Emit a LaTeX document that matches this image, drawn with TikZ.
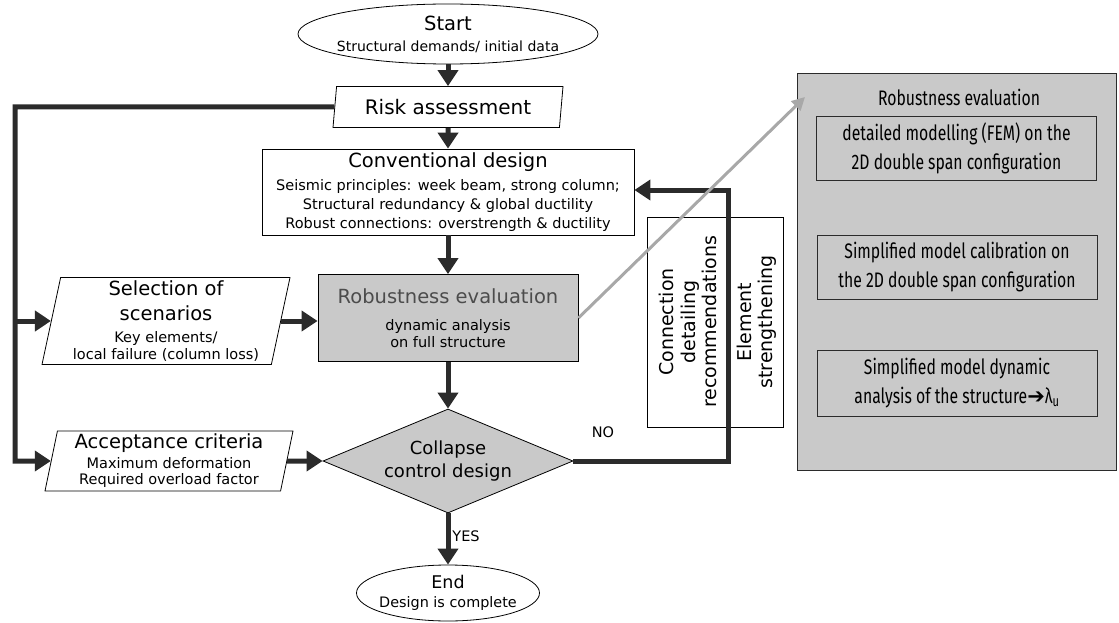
\documentclass[tikz,border=0pt]{standalone}
\usepackage{fontspec}
\setmainfont{DejaVu Sans}
\newfontfamily\narrowfont[FakeStretch=0.75]{Fira Sans}
\newfontfamily\symbfont{DejaVu Sans}
\usetikzlibrary{shapes.geometric,arrows.meta}
\definecolor{darkline}{HTML}{2B2B2B}
\definecolor{boxgray}{HTML}{C9C9C9}
\definecolor{arrowgray}{HTML}{A8A8A8}
\newcommand\headfont{\fontsize{19.5}{19}\selectfont}
\newcommand\panelfont{\narrowfont\fontsize{21}{29}\selectfont}

\begin{document}
\begin{tikzpicture}[x=1pt,y=-1pt,
  every node/.style={inner sep=0pt, align=center, line width=0.8pt},
  flow/.style={line width=5pt, draw=darkline, -{Triangle[length=16pt,width=20pt]}},
  grayflow/.style={line width=3pt, draw=arrowgray, -{Triangle[length=13pt,width=13pt]}},
  io/.style={draw, trapezium, trapezium left angle=77, trapezium right angle=103,
    trapezium stretches body},
  terminal/.style={draw, ellipse, inner sep=-12pt},
  plainbox/.style={draw, rectangle},
  graybox/.style={draw, rectangle, fill=boxgray},
  sidebox/.style={draw, rectangle, rotate=90, minimum width=210pt,
    font=\fontsize{19}{21.5}\selectfont},
  innerbox/.style={draw=darkline, rectangle, fill=boxgray, minimum width=280pt,
    font=\panelfont}]
  \useasboundingbox (0,0) rectangle (1119,623);

  % main column
  \node[terminal, minimum width=300pt, minimum height=60pt,
    font=\fontsize{14}{21}\selectfont] (start) at (448,34)
    {{\headfont Start}\\Structural demands/ initial data};
  \node[io, minimum width=230pt, minimum height=41pt] (risk) at (448,107)
    {\fontsize{20}{22}\selectfont Risk assessment};
  \node[plainbox, minimum width=372pt, minimum height=86pt,
    font=\fontsize{14.5}{19}\selectfont] (conv) at (448,192)
    {{\headfont Conventional design}\\[4pt]
     Seismic principles: week beam, strong column;\\
     Structural redundancy \& global ductility\\
     Robust connections: overstrength \& ductility};
  \node[graybox, minimum width=260pt, minimum height=87pt,
    font=\fontsize{14.5}{17}\selectfont] (robust) at (448,318)
    {{\headfont\color{black!70}Robustness evaluation}\\[10pt]
     dynamic analysis\\on full structure};
  \node[draw, diamond, aspect=2.4, fill=boxgray, minimum width=250pt,
    minimum height=104pt, font=\fontsize{18}{23}\selectfont] (collapse) at (448,461)
    {Collapse\\control design};
  \node[terminal, minimum width=183pt, minimum height=56pt,
    font=\fontsize{14.4}{19}\selectfont] (end) at (448,593)
    {{\fontsize{17.5}{19}\selectfont End}\\Design is complete};

  % inputs on the left
  \node[io, minimum width=248pt, minimum height=87pt,
    font=\fontsize{14.5}{17}\selectfont] (select) at (166,321)
    {{\headfont Selection of}\\[8pt]{\headfont scenarios}\\[5pt]
     Key elements/\\local failure (column loss)};
  \node[io, minimum width=248pt, minimum height=60pt,
    font=\fontsize{14.5}{16}\selectfont] (accept) at (169,461)
    {{\headfont Acceptance criteria}\\[4pt]
     Maximum deformation\\Required overload factor};

  % redesign measures
  \node[sidebox, minimum height=82pt] (conn) at (688,322)
    {Connection\\detailing\\recommendations};
  \node[sidebox, minimum height=53pt] (elem) at (756.5,322)
    {Element\\strengthening};

  % detailed robustness evaluation
  \node[draw=darkline, rectangle, fill=boxgray, minimum width=319pt,
    minimum height=397pt] (panel) at (956.5,271.5) {};
  \node[font=\panelfont] (ptitle) at (959,97) {Robustness evaluation};
  \node[innerbox, minimum height=64pt] (pfem) at (956.5,148)
    {detailed modelling (FEM) on the\\2D double span configuration};
  \node[innerbox, minimum height=64pt] (pcal) at (957,267)
    {Simplified model calibration on\\the 2D double span configuration};
  \node[innerbox, minimum height=66pt] (pdyn) at (957,383)
    {Simplified model dynamic\\analysis of the structure{\symbfont ➔}λ\textsubscript{u}};

  \draw[flow] (start) -- (risk);
  \draw[flow] (risk) -- (conv);
  \draw[flow] (conv) -- (robust);
  \draw[flow] (robust) -- (collapse);
  \draw[flow] (collapse) -- (end)
    node[pos=0.45, right=4pt, font=\fontsize{14.5}{16}\selectfont] (yes) {YES};

  \coordinate (lft) at (15,107);
  \draw[flow] (risk.west) -- (lft) |- (accept.west);
  \draw[flow] (lft |- select.west) -- (select.west);
  \draw[flow] (select.east) -- (select.east -| robust.west);
  \draw[flow] (accept.east) -- (collapse.west);

  \coordinate (fb) at (728,190);
  \draw[flow] (collapse.east) -| (fb) -- (fb -| conv.east);
  \node[font=\fontsize{14.5}{16}\selectfont] (no) at (603,432) {NO};

  \coordinate (grtip) at (805,97);
  \draw[grayflow] (robust.east) -- (grtip);
\end{tikzpicture}
\end{document}
